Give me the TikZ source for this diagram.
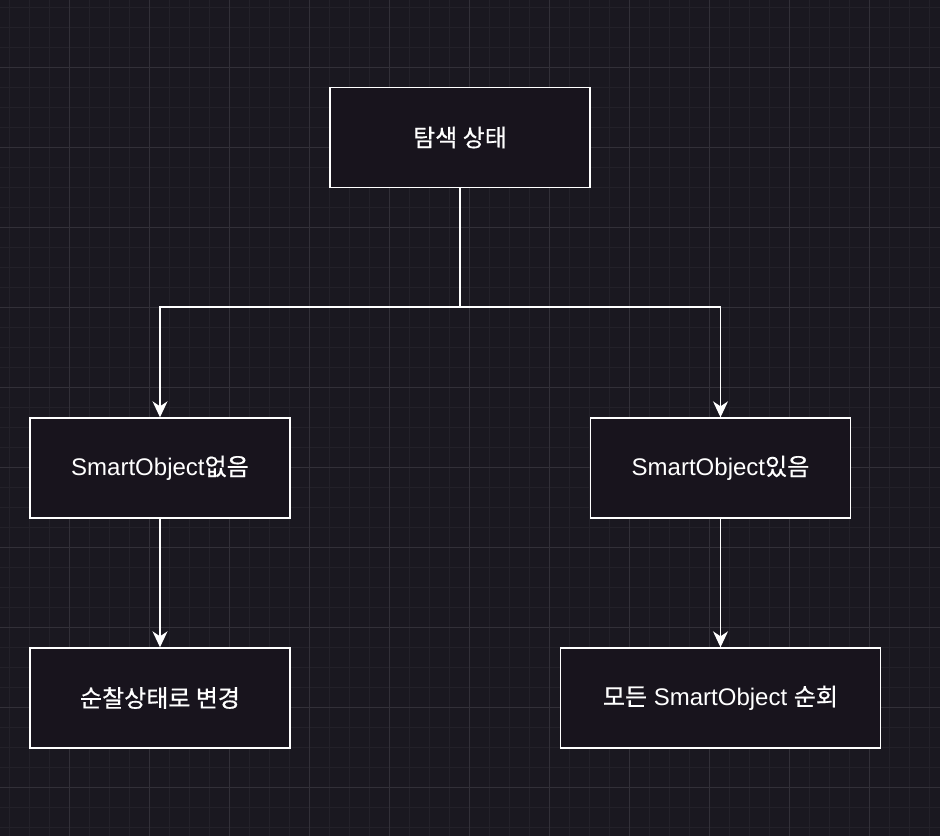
\documentclass[tikz,border=0pt]{standalone}
\usepackage{fontspec}
\setmainfont{Liberation Sans}
\newfontfamily\kr{Noto Sans CJK KR}[FakeBold=0.6]
\usetikzlibrary{arrows.meta}
\definecolor{bgc}{RGB}{26,24,32}
\definecolor{boxc}{RGB}{24,20,29}
\definecolor{gridminor}{RGB}{35,33,41}
\definecolor{gridmajor}{RGB}{50,48,56}
\tikzset{
  box/.style={draw=white, line width=1.4pt, fill=boxc, text=white, minimum height=100pt, inner sep=0pt, font=\fontsize{24}{28}\selectfont},
  conn/.style={draw=white, line width=1.4pt, -{Stealth[length=16pt,width=15pt,inset=5pt]}},
  seg/.style={draw=white, line width=1.4pt}
}
\begin{document}
\begin{tikzpicture}[x=1pt,y=-1pt]
\useasboundingbox (0,0) rectangle (940,836);
\fill[bgc] (0,0) rectangle (940,836);
\foreach \x in {9,29,...,940} \draw[gridminor, line width=1pt] (\x,0) -- (\x,836);
\foreach \y in {7,27,...,836} \draw[gridminor, line width=1pt] (0,\y) -- (940,\y);
\foreach \x in {69,149,...,940} \draw[gridmajor, line width=1pt] (\x,0) -- (\x,836);
\foreach \y in {67,147,...,836} \draw[gridmajor, line width=1pt] (0,\y) -- (940,\y);

\node[box, minimum width=260pt] (top) at (460,137.5) {{\kr 탐색 상태}};
\node[box, minimum width=260pt] (no) at (160,468) {SmartObject{\kr 없음}};
\node[box, minimum width=260pt] (yes) at (720.5,468) {SmartObject{\kr 있음}};
\node[box, minimum width=260pt] (patrol) at (160,698) {{\kr 순찰상태로 변경}};
\node[box, minimum width=320pt] (all) at (720.5,698) {{\kr 모든} SmartObject {\kr 순회}};

\coordinate (j) at (460,307);
\draw[seg] (top.south) -- (j);
\draw[conn] (j) -| (no.north);
\draw[conn] (j) -| (yes.north);
\draw[conn] (no.south) -- (patrol.north);
\draw[conn] (yes.south) -- (all.north);
\end{tikzpicture}
\end{document}
